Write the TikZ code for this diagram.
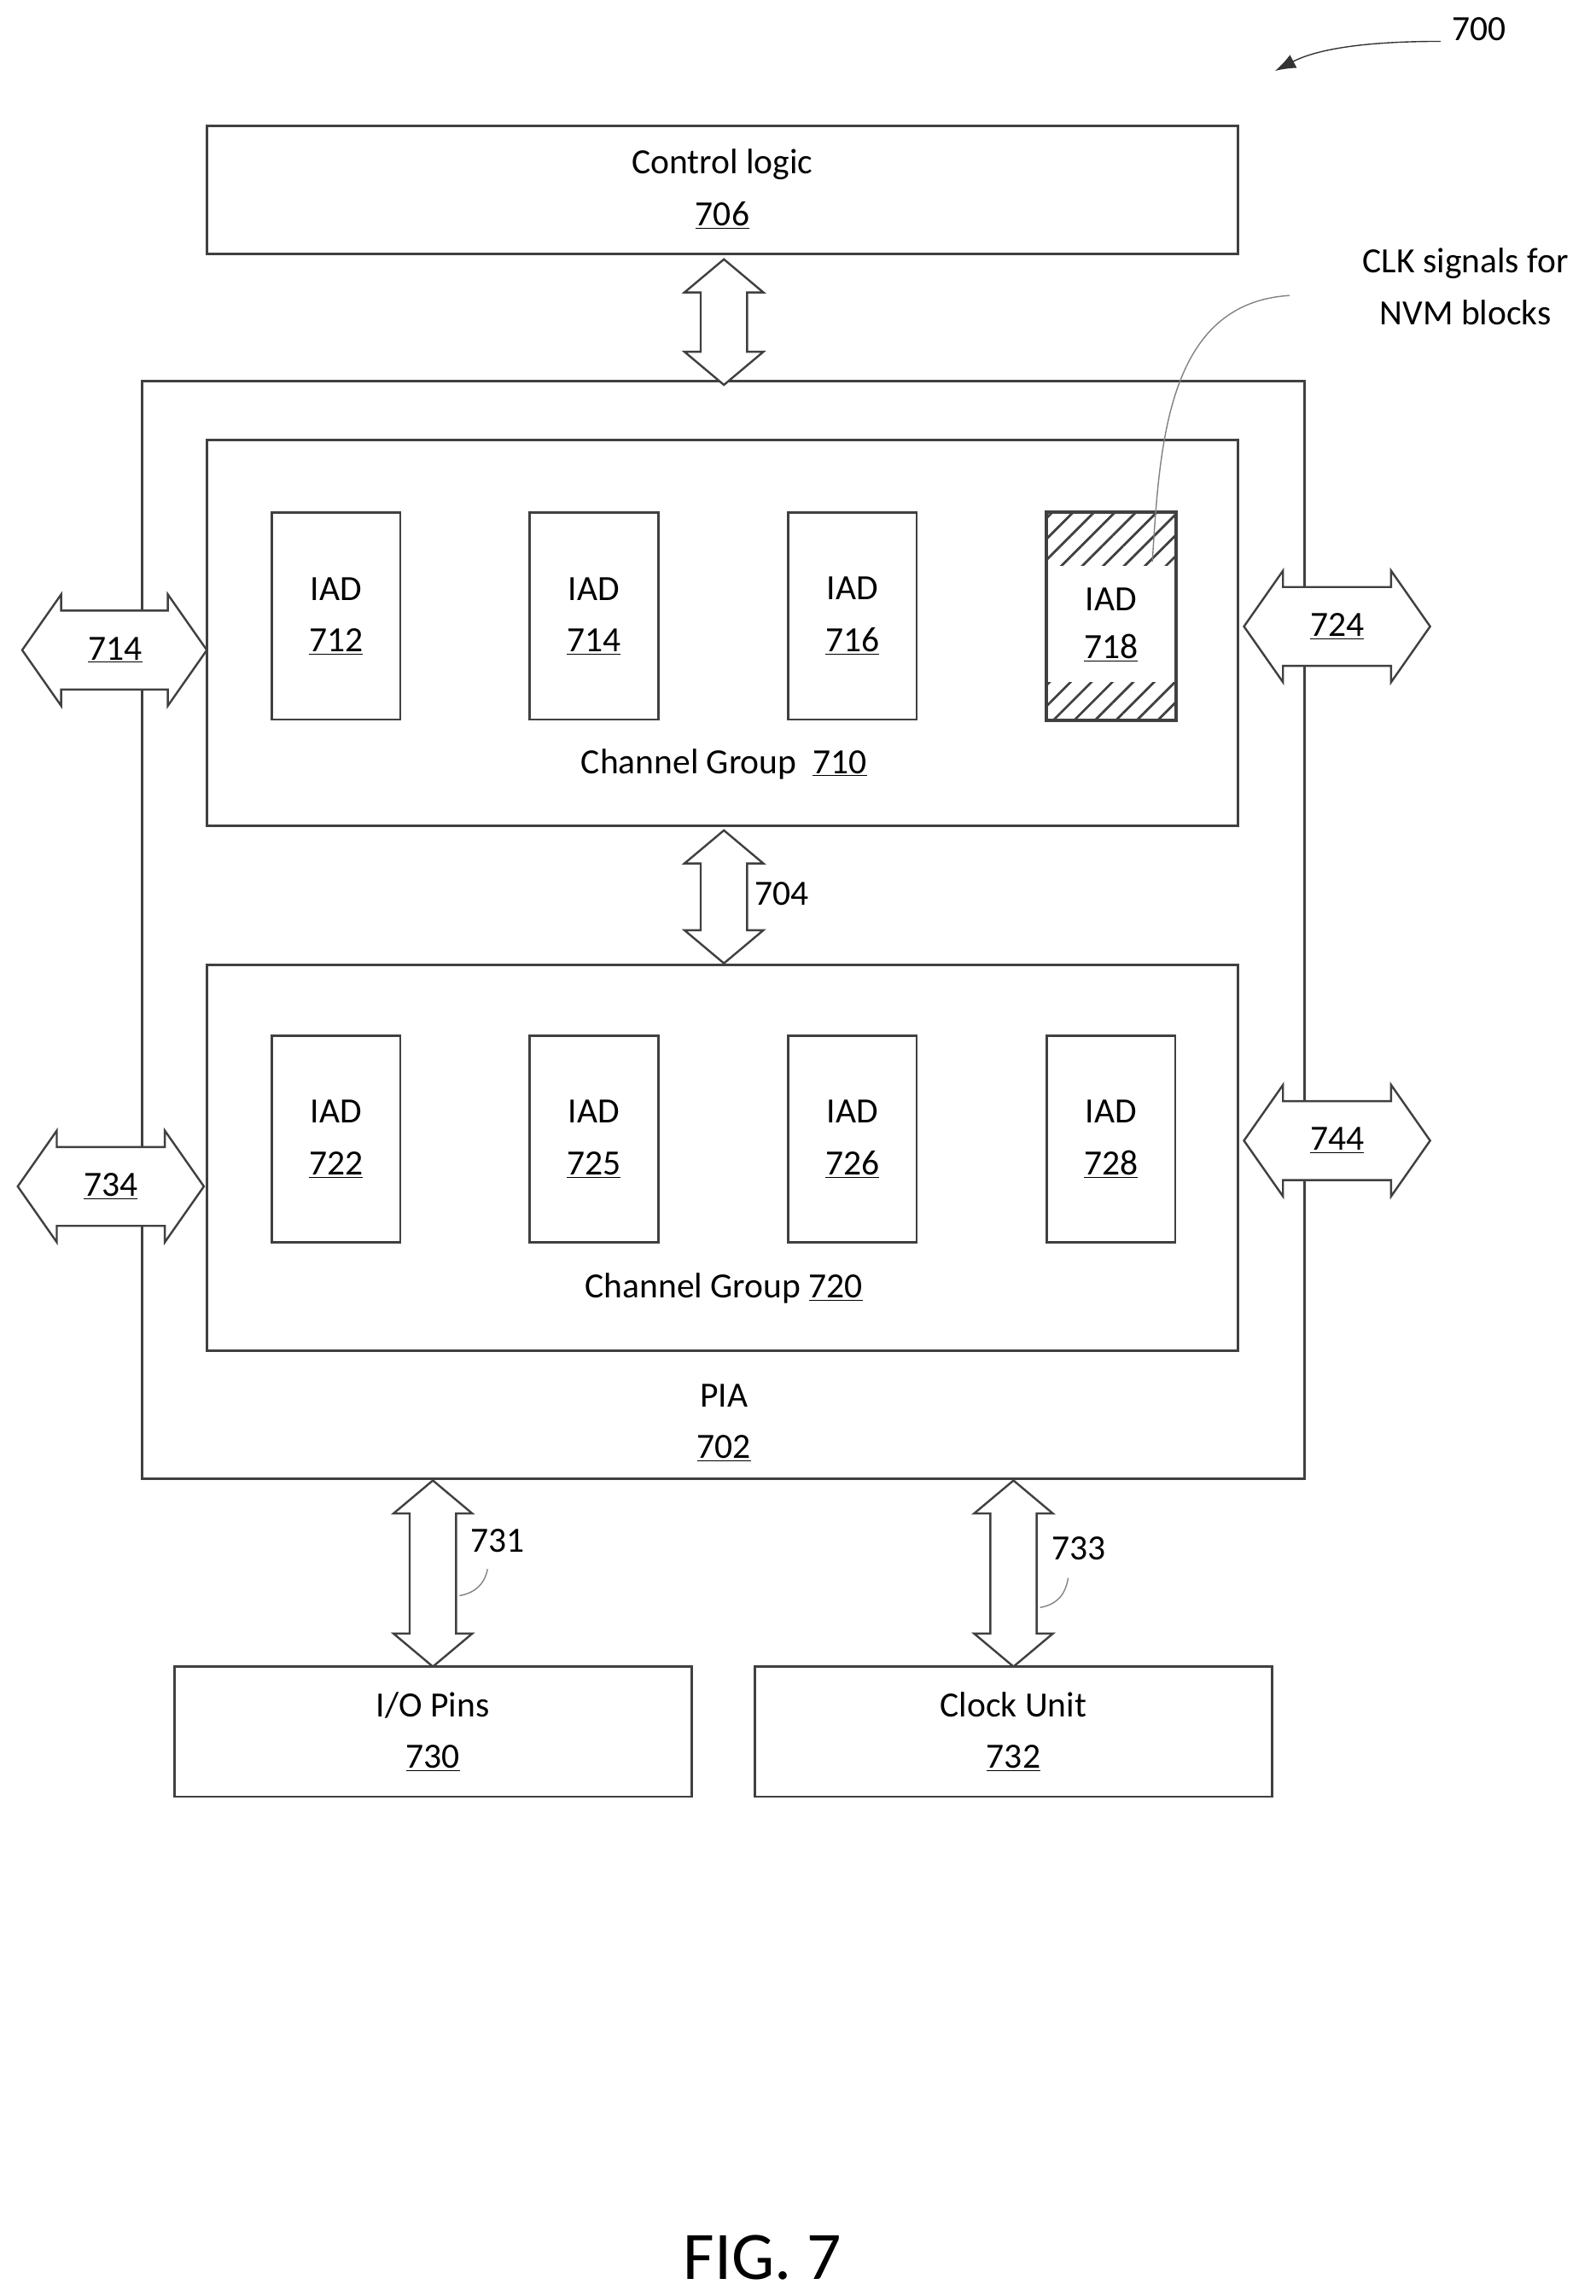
\documentclass[tikz,border=0pt]{standalone}
\usepackage{fontspec}
\setmainfont{Carlito}
\usetikzlibrary{shapes.arrows,patterns.meta,arrows.meta}
\begin{document}
\begin{tikzpicture}[x=1pt,y=-1pt,
  box/.style={draw=black!75,line width=1.6pt,fill=white},
  lbl/.style={font=\fontsize{24}{30}\selectfont,align=center},
  varr/.style={double arrow,draw=black!75,line width=1.4pt,fill=white,rotate=90,inner sep=0pt,inner ysep=15pt,inner xsep=0pt,double arrow head extend=11pt,double arrow tip angle=100},
  harr/.style={double arrow,draw=black!75,line width=1.4pt,fill=white,inner sep=0pt,inner ysep=26pt,double arrow head extend=11pt,double arrow tip angle=110},
  lead/.style={draw=black!50,line width=0.8pt}]
\useasboundingbox (0,0) rectangle (1080,1554);
% control logic
\node[box,minimum width=698pt,minimum height=87pt] (ctl) at (489,128.5) {};
\node[lbl] at (489,128) {Control logic\\[5pt]\underline{706}};
% PIA
\node[box,minimum width=787pt,minimum height=743pt] (pia) at (489.5,629.5) {};
\node[varr,minimum height=85pt] (a706) at (490,218) {};
\node[lbl] (pial) at (490,963) {PIA\\[5pt]\underline{702}};
% channel groups
\node[box,minimum width=698pt,minimum height=261pt] (cg1) at (489,428.5) {};
\node[box,minimum width=698pt,minimum height=261pt] (cg2) at (489,783.5) {};
\node[lbl] at (490,517) {Channel Group\ \ \underline{710}};
\node[lbl] at (490,872) {Channel Group \underline{720}};
% IADs
\foreach \x/\n in {227.5/712,402/714,577/716}{
  \node[box,minimum width=87pt,minimum height=140pt] (i\n) at (\x,417) {};
  \node[lbl] at (\x,417) {IAD\\[5pt]\underline{\n}};}
\node[box,minimum width=87pt,minimum height=140pt] (i718) at (752,417) {};
\fill[pattern={Lines[angle=45,distance=10pt,line width=1.6pt]},pattern color=black!75] (708.5,347.5) rectangle (795.5,383);
\fill[pattern={Lines[angle=45,distance=10pt,line width=1.6pt]},pattern color=black!75] (708.5,462) rectangle (795.5,486.5);
\draw[black!75,line width=1.6pt] (i718.north west) rectangle (i718.south east);
\node[lbl] at (752,423) {IAD\\[2pt]\underline{718}};
\foreach \x/\n in {227.5/722,402/725,577/726,752/728}{
  \node[box,minimum width=87pt,minimum height=140pt] (i\n) at (\x,771) {};
  \node[lbl] at (\x,771) {IAD\\[5pt]\underline{\n}};}
% 704
\node[varr,minimum height=90pt] (a704) at (490,607) {};
\node[lbl] at (529,605) {704};
% side arrows
\node[harr,minimum height=125pt] (a714) at (77.5,440) {};
\node[lbl] at (78,440) {\underline{714}};
\node[harr,minimum height=126pt] (a724) at (905,424) {};
\node[lbl] at (905,424) {\underline{724}};
\node[harr,minimum height=126pt] (a734) at (75,803) {};
\node[lbl] at (75,803) {\underline{734}};
\node[harr,minimum height=126pt] (a744) at (905,772) {};
\node[lbl] at (905,772) {\underline{744}};
% bottom
\node[varr,minimum height=126pt] (a731) at (293,1065) {};
\node[varr,minimum height=126pt] (a733) at (686,1065) {};
\node[lbl] at (337,1043) {731};
\node[lbl] at (730,1048) {733};
\draw[lead] (311,1080) .. controls (322,1078) and (328,1072) .. (330,1062);
\draw[lead] (704,1088) .. controls (715,1086) and (721,1080) .. (723,1068);
\node[box,minimum width=350pt,minimum height=88pt] (io) at (293,1172) {};
\node[lbl] at (293,1172) {I/O Pins\\[5pt]\underline{730}};
\node[box,minimum width=350pt,minimum height=88pt] (clk) at (686,1172) {};
\node[lbl] at (686,1172) {Clock Unit\\[5pt]\underline{732}};
% CLK annotation
\node[lbl] (clkn) at (992,194) {CLK signals for\\[5pt]NVM blocks};
\draw[lead] (873,200) .. controls (790,205) and (785,300) .. (780,380);
% 700
\node[lbl] (n700) at (1001,20) {700};
\draw[lead,-{Latex[length=14pt,width=10pt]},black!80] (975,28) .. controls (920,28) and (890,34) .. (863,48);
\node[font=\fontsize{46}{52}\selectfont] at (516,1528) {FIG. 7};
\end{tikzpicture}
\end{document}
